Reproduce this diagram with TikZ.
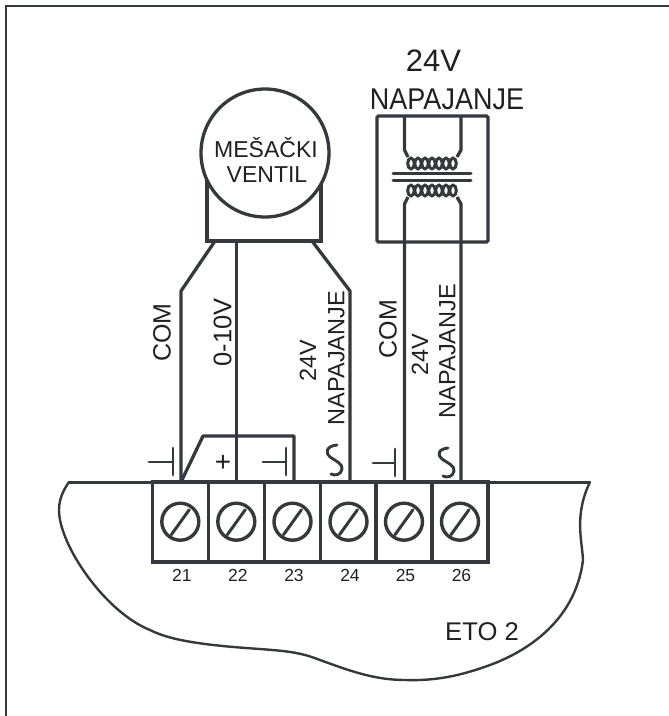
\documentclass[tikz,border=0pt]{standalone}
\usepackage{fontspec}
\setmainfont{Liberation Sans}
\definecolor{ink}{HTML}{35393D}
\definecolor{txt}{HTML}{231F20}
\tikzset{
  wire/.style={draw=ink,line width=3.3pt,line join=round},
  thinline/.style={draw=ink,line width=2.6pt,line join=round,line cap=round},
  symb/.style={draw=ink,line width=2.9pt,line cap=round,line join=round},
  terminal/.style={draw=ink,line width=3.6pt,rectangle,minimum width=56pt,minimum height=80pt,inner sep=0pt},
  screw/.style={draw=ink,line width=3.4pt,circle,minimum size=37pt,inner sep=0pt},
  lab/.style={text=txt,inner sep=0pt,anchor=center},
  vlab/.style={lab,rotate=90},
  coil/.style={draw=ink,line width=3pt},
}
\begin{document}
\begin{tikzpicture}[x=1pt,y=-1pt]
\useasboundingbox (0,0) rectangle (669,716);
% outer frame
\coordinate (fb) at (6,716); \coordinate (fc) at (6,6); \coordinate (fr) at (669,6);
\draw[draw=ink,line width=2.6pt] (fb) -- (fc) -- (fr);
% board outline
\coordinate (bl) at (69,482); \coordinate (br) at (590,482);
\draw[thinline,line width=2.4pt] (bl) .. controls (62,492) and (59,501) .. (59,510)
  .. controls (59,545) and (105,612) .. (150,630)
  .. controls (170,640) and (200,645) .. (260,649)
  .. controls (285,651) and (300,652) .. (320,660)
  .. controls (350,671) and (375,680) .. (405,680)
  .. controls (435,681) and (460,676) .. (490,665)
  .. controls (520,654) and (575,625) .. (583,560)
  .. controls (582,540) and (574,515) .. (590,482);
\draw[draw=ink,line width=3pt] (bl) -- (br);
% valve
\node[draw=ink,line width=3.3pt,rectangle,minimum width=114pt,minimum height=71pt,inner sep=0pt] (vb) at (264,205.5) {};
\node[draw=ink,line width=3.3pt,fill=white,circle,minimum size=128pt,inner sep=0pt] (vc) at (265,153) {};
\node[lab,font=\fontsize{23}{23}\selectfont] (vt1) at (266,148) {MEŠAČKI};
\node[lab,font=\fontsize{23}{23}\selectfont] (vt2) at (267,175) {VENTIL};
% transformer
\node[draw=ink,line width=3.2pt,rectangle,rounded corners=1.5pt,minimum width=111pt,minimum height=126pt,inner sep=0pt] (tr) at (432.5,179) {};
\coordinate (cl) at (393,173); \coordinate (cr) at (471,173);
\coordinate (dl) at (393,180); \coordinate (dr) at (471,180);
\draw[wire,line width=3pt,line cap=round] (cl) -- (cr);
\draw[wire,line width=3pt,line cap=round] (dl) -- (dr);
\foreach \cx in {411,418,425,432,439,446,453}{
  \draw[coil] (\cx,163.5) ellipse (3.3pt and 5.4pt);
  \draw[coil] (\cx,190.5) ellipse (3.3pt and 5.4pt);
}
% terminals
\foreach \n/\cx in {21/180.3,22/236.3,23/292.5,24/348.5,25/404,26/460}{
  \node[terminal] (t\n) at (\cx,522) {};
  \node[screw] (s\n) at (\cx,521.7) {};
  \draw[symb,line width=3pt] ([shift={(-9,13)}]s\n.center) -- ([shift={(9,-12)}]s\n.center);
  \node[lab,font=\fontsize{17.5}{17.5}\selectfont] (n\n) at ([shift={(1.5,53.5)}]\cx,522) {\n};
}
% wires
\coordinate (a21) at (215,241); \coordinate (b21) at (181,291); \coordinate (c21) at (181,482);
\coordinate (a22) at (236.7,241); \coordinate (c22) at (236.7,482);
\coordinate (a24) at (312,241); \coordinate (b24) at (350,291); \coordinate (c24) at (350,482);
\coordinate (a25) at (404.5,116); \coordinate (e25) at (404.5,150); \coordinate (f25) at (408,157);
\coordinate (g25) at (408,197); \coordinate (h25) at (404.5,204); \coordinate (c25) at (404.5,482);
\coordinate (a26) at (461,116); \coordinate (e26) at (461,150); \coordinate (f26) at (457,157);
\coordinate (g26) at (457,197); \coordinate (h26) at (461,204); \coordinate (c26) at (461,482);
\draw[wire] (a21) -- (b21) -- (c21);
\draw[wire] (a22) -- (c22);
\draw[wire] (a24) -- (b24) -- (c24);
\draw[wire] (a25) -- (e25) -- (f25);
\draw[wire] (a26) -- (e26) -- (f26);
\draw[wire] (g25) -- (h25) -- (c25);
\draw[wire] (g26) -- (h26) -- (c26);
% jumper
\coordinate (j1) at (203,436); \coordinate (j2) at (294,436); \coordinate (j3) at (294,482);
\draw[wire] (c21) -- (j1) -- (j2) -- (j3);
% symbols
\foreach \hx/\vx/\yy in {149/173/462,263/286/462,373/395/463}{
  \draw[symb] (\hx,\yy) -- (\vx,\yy);
  \draw[symb] (\vx,\yy-14) -- (\vx,\yy+13);
}
\node[lab,font=\fontsize{28}{28}\selectfont] (plus) at (223,463) {+};
\draw[symb] (337,445) .. controls (326,446) and (325,453) .. (330,457)
  .. controls (336,461) and (343,464) .. (342,469)
  .. controls (341,475) and (335,476) .. (331,474);
\draw[symb] (448,448) .. controls (438,449) and (437,455) .. (442,459)
  .. controls (448,463) and (455,466) .. (454,471)
  .. controls (453,477) and (447,478) .. (443,476);
% labels
\node[lab,font=\fontsize{31}{31}\selectfont] (top1) at (433.5,60.5) {24V};
\node[lab,font=\fontsize{30}{30}\selectfont] (top2) at (447,99) {\scalebox{0.9}[1]{NAPAJANJE}};
\node[vlab,font=\fontsize{25}{25}\selectfont] (l1) at (162,332.5) {COM};
\node[vlab,font=\fontsize{25.5}{25.5}\selectfont] (l2) at (222.5,332.5) {0-10V};
\node[vlab,font=\fontsize{23.5}{23.5}\selectfont] (l3) at (308,361) {24V};
\node[vlab,font=\fontsize{23.5}{23.5}\selectfont] (l4) at (336.5,358) {NAPAJANJE};
\node[vlab,font=\fontsize{25}{25}\selectfont] (l5) at (388,329) {COM};
\node[vlab,font=\fontsize{23.5}{23.5}\selectfont] (l6) at (420,355) {24V};
\node[vlab,font=\fontsize{23.5}{23.5}\selectfont] (l7) at (447.5,351) {NAPAJANJE};
\node[lab,font=\fontsize{25.6}{25.6}\selectfont] (eto) at (482,631.5) {ETO 2};
\end{tikzpicture}
\end{document}
